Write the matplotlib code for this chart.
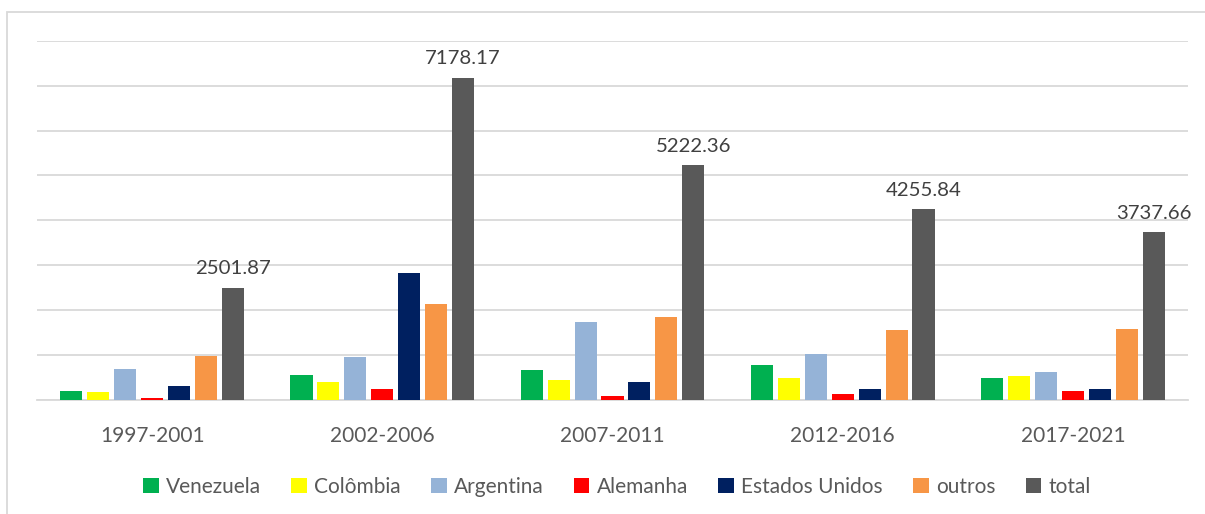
import matplotlib
matplotlib.use("Agg")
import matplotlib.pyplot as plt
import numpy as np
from matplotlib.patches import Rectangle

plt.rcParams['font.family'] = ['Lato', 'DejaVu Sans']

periods = ["1997-2001", "2002-2006", "2007-2011", "2012-2016", "2017-2021"]
series_names = ["Venezuela", "Colômbia", "Argentina", "Alemanha", "Estados Unidos", "outros", "total"]
venezuela = [200, 557, 668, 780, 490]
colombia = [178, 401, 445, 490, 535]
argentina = [690, 958, 1737, 1024, 624]
alemanha = [45, 245, 89, 134, 200]
estados_unidos = [312, 2828, 401, 245, 245]
outros = [980, 2138, 1849, 1559, 1581]
total = [2501.87, 7178.17, 5222.36, 4255.84, 3737.66]
colors = ["#00B050", "#FFFF00", "#95B3D7", "#FF0000", "#002060", "#F79646", "#595959"]

all_series = [venezuela, colombia, argentina, alemanha, estados_unidos, outros, total]

W, H = 1205, 514
fig = plt.figure(figsize=(W / 100, H / 100), dpi=100)
left, right, top, bottom = 37, 1188, 40.7, 400
ax = fig.add_axes([left / W, 1 - bottom / H, (right - left) / W, (bottom - top) / H])

x = np.arange(len(periods))
bw = 0.096
step = 0.117
n = len(all_series)
for i, (name, vals, c) in enumerate(zip(series_names, all_series, colors)):
    off = (i - (n - 1) / 2) * step
    ax.bar(x + off, vals, width=bw, color=c, label=name, zorder=3)
    if name == "total":
        for xi, v in zip(x, vals):
            ax.text(xi + off, v + 230, f"{v:.2f}", ha="center", va="bottom",
                    fontsize=14.7, color="#404040", zorder=4)

ax.set_xlim(-0.5, len(periods) - 0.5)
ax.set_ylim(0, 8000)
ax.set_yticks(np.arange(0, 8001, 1000))
ax.yaxis.grid(True, color="#D9D9D9", linewidth=1.3, zorder=0)
ax.tick_params(axis="y", left=False, labelleft=False)
ax.tick_params(axis="x", bottom=False, labelsize=15, labelcolor="#595959", pad=15)
ax.set_xticks(x)
ax.set_xticklabels(periods)
for s in ["left", "right", "top"]:
    ax.spines[s].set_visible(False)
ax.spines["bottom"].set_color("#D9D9D9")
ax.spines["bottom"].set_linewidth(1.3)

leg = fig.legend(loc="center", bbox_to_anchor=(0.512, 1 - 487 / H), ncol=7, frameon=False,
                 fontsize=15, handlelength=0.75, handleheight=0.75, handletextpad=0.35,
                 columnspacing=1.45)
for t in leg.get_texts():
    t.set_color("#595959")

fig.patches.append(Rectangle((7 / W, -0.1), 1.2, 1 - 12 / H + 0.1, transform=fig.transFigure,
                             fill=False, edgecolor="#D9D9D9", linewidth=1.3))

fig.savefig("out.png", dpi=100)
